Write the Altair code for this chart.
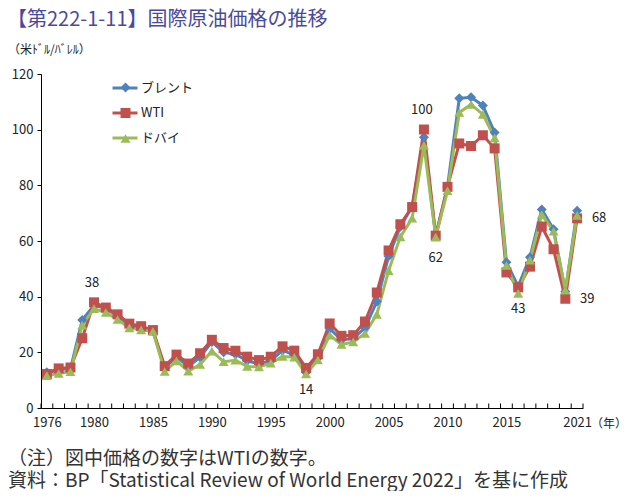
import altair as alt
import pandas as pd

years = list(range(1976, 2022))
brent = [12.80, 13.92, 14.02, 31.61, 36.83, 35.93, 32.97, 29.55, 28.78, 27.56,
         14.43, 18.44, 14.92, 18.23, 23.73, 20.00, 19.32, 16.97, 15.82, 17.02,
         20.67, 19.09, 12.72, 17.97, 28.50, 24.44, 25.02, 28.83, 38.27, 54.52,
         65.14, 72.39, 97.26, 61.67, 79.50, 111.26, 111.67, 108.66, 98.95, 52.39,
         43.73, 54.19, 71.31, 64.21, 41.84, 70.91]
wti = [12.23, 14.22, 14.55, 25.08, 37.96, 36.08, 33.65, 30.30, 29.39, 27.99,
       15.04, 19.18, 15.97, 19.68, 24.50, 21.54, 20.57, 18.45, 17.21, 18.42,
       22.16, 20.61, 14.39, 19.31, 30.37, 25.93, 26.16, 31.07, 41.49, 56.59,
       66.02, 72.20, 100.06, 61.92, 79.45, 95.04, 94.13, 97.99, 93.28, 48.71,
       43.34, 50.79, 65.20, 57.03, 39.25, 68.13]
dubai = [11.63, 12.38, 13.03, 29.75, 35.69, 34.32, 31.80, 28.78, 28.06, 27.53,
         13.10, 16.95, 13.27, 15.62, 20.45, 16.63, 17.17, 14.93, 14.74, 16.10,
         18.52, 18.23, 12.21, 17.25, 26.20, 22.81, 23.74, 26.78, 33.64, 49.35,
         61.50, 68.19, 94.34, 61.39, 78.06, 106.18, 109.08, 105.47, 97.07, 51.20,
         41.19, 53.13, 69.51, 63.49, 42.29, 69.23]
series = ["ブレント", "WTI", "ドバイ"]
colors = ["#4F81BD", "#C0504D", "#9BBB59"]
shapes = ["diamond", "square", "triangle-up"]
label_years = [1976, 1980, 1985, 1990, 1995, 2000, 2005, 2010, 2015, 2021]
tick_years = [y - 0.5 for y in years] + [years[-1] + 0.5]
above_years = [1980, 2008]
below_years = [1998, 2009, 2016]
right_years = [2020, 2021]

FONT = "Noto Sans CJK JP"
W, H = 542, 334

rows = []
for name, vals in zip(series, [brent, wti, dubai]):
    for yr, v in zip(years, vals):
        rows.append({"year": yr, "price": v, "series": name})
df = pd.DataFrame(rows)

wti_df = pd.DataFrame({"year": years, "price": wti})
wti_df["label"] = wti_df["price"].round().astype(int).astype(str)

xscale = alt.Scale(domain=[tick_years[0], tick_years[-1]], nice=False, zero=False)
yscale = alt.Scale(domain=[0, 120], nice=False)

xaxis = alt.Axis(values=label_years, ticks=False, grid=False, title=None,
                 domainColor="#000000", labelFont=FONT, labelFontSize=13,
                 labelColor="#222222", labelPadding=8, labelOverlap=False,
                 labelFlush=False, format="d")
yaxis = alt.Axis(values=[0, 20, 40, 60, 80, 100, 120], grid=False, title=None,
                 domainColor="#000000", tickColor="#000000", tickSize=4,
                 labelFont=FONT, labelFontSize=13, labelColor="#222222",
                 labelPadding=4)

base = alt.Chart(df)

lines = base.mark_line(strokeWidth=3).encode(
    x=alt.X("year:Q", scale=xscale, axis=xaxis),
    y=alt.Y("price:Q", scale=yscale, axis=yaxis),
    color=alt.Color("series:N", scale=alt.Scale(domain=series, range=colors),
                    legend=alt.Legend(title=None, orient="none", legendX=70, legendY=0,
                                      symbolType="stroke", symbolSize=625,
                                      symbolStrokeWidth=3, rowPadding=4,
                                      labelFont=FONT, labelFontSize=13,
                                      labelColor="#222222", labelOffset=2,
                                      padding=0)),
    detail="series:N",
)

shape_legend = alt.Legend(title=None, orient="none", legendX=78, legendY=7,
                          symbolSize=100, rowPadding=11.5,
                          labelFont=FONT, labelFontSize=13,
                          labelOpacity=0, padding=0, symbolStrokeWidth=0)

points = base.mark_point(filled=True, opacity=1, size=100).encode(
    x=alt.X("year:Q", scale=xscale),
    y=alt.Y("price:Q", scale=yscale),
    color=alt.Color("series:N", scale=alt.Scale(domain=series, range=colors),
                    legend=shape_legend),
    shape=alt.Shape("series:N", scale=alt.Scale(domain=series, range=shapes),
                    legend=shape_legend),
)

ticks = alt.Chart(pd.DataFrame({"t": tick_years})).mark_rule(color="#000000", strokeWidth=1).encode(
    x=alt.X("t:Q", scale=xscale),
    y=alt.value(H),
    y2=alt.value(H - 4.5),
)

def labels(yrs, dx, dy):
    return alt.Chart(wti_df[wti_df["year"].isin(yrs)]).mark_text(
        font=FONT, fontSize=13, color="#222222", dx=dx, dy=dy
    ).encode(x=alt.X("year:Q", scale=xscale), y=alt.Y("price:Q", scale=yscale),
             text="label:N")

lab_above = labels(above_years, -2, -19)
lab_below = labels(below_years, 0, 22)
lab_right = labels(right_years, 22, 0)

def txt(s, x, y, size, color="#222222", align="left", weight="normal"):
    return alt.Chart(pd.DataFrame({"s": [s]})).mark_text(
        font=FONT, fontSize=size, color=color, align=align, baseline="middle",
        fontWeight=weight
    ).encode(x=alt.value(x), y=alt.value(y), text="s:N")

title = txt("【第222-1-11】国際原油価格の推移", -34, -54, 20, color="#4B4A9A", weight="normal")
unit = txt("（米ﾄﾞﾙ/ﾊﾞﾚﾙ）", -33, -24, 12)
nen = txt("（年）", 568, 350, 12, align="center")
note1 = txt("（注）図中価格の数字はWTIの数字。", -33, 385, 19, color="#333333")
note2 = txt("資料：BP「Statistical Review of World Energy 2022」を基に作成", -33, 407, 19, color="#333333")

chart = alt.layer(
    ticks, lines, points, lab_above, lab_below, lab_right,
    title, unit, nen, note1, note2
).resolve_scale(color="independent", shape="independent").resolve_legend(
    color="independent", shape="independent"
).properties(
    width=W, height=H,
    autosize=alt.AutoSizeParams(type="none"),
    padding={"left": 33, "top": 66, "right": 46, "bottom": 83},
).configure_view(stroke=None)

chart.save("out.html", embed_options={"renderer": "svg", "actions": False})
